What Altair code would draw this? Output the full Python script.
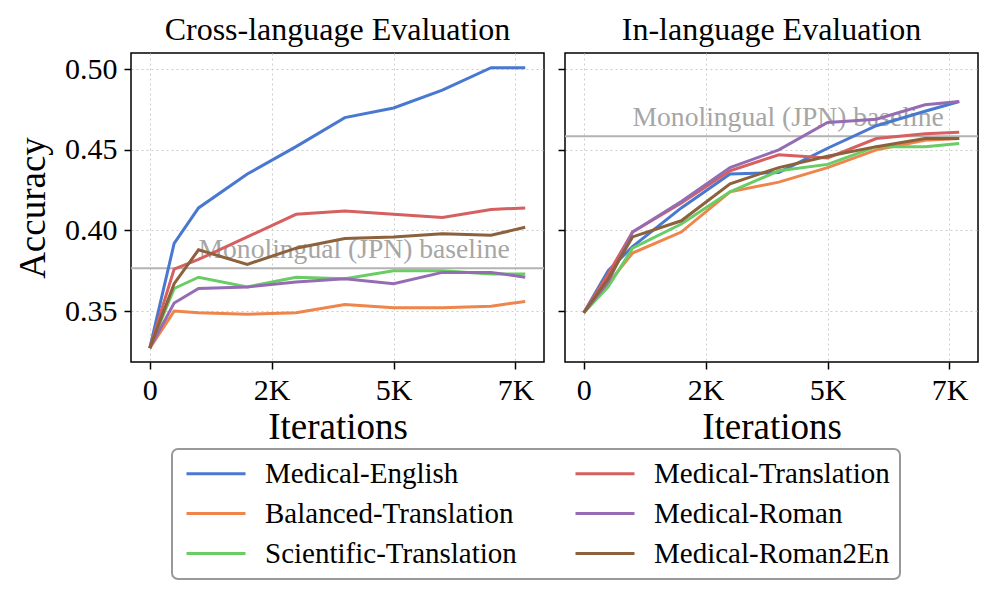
import altair as alt
import pandas as pd

iterations = [0, 500, 1000, 2000, 3000, 4000, 5000, 6000, 7000, 7700]

models = ["Medical-English", "Balanced-Translation", "Scientific-Translation",
          "Medical-Translation", "Medical-Roman", "Medical-Roman2En"]
colors = ["#4878d0", "#ee854a", "#6acc64", "#d65f5f", "#956cb4", "#8c613c"]

cross_medical_english = [0.327, 0.392, 0.414, 0.435, 0.452, 0.470, 0.476, 0.487, 0.501, 0.501]
cross_balanced_translation = [0.327, 0.350, 0.349, 0.348, 0.349, 0.354, 0.352, 0.352, 0.353, 0.356]
cross_scientific_translation = [0.327, 0.364, 0.371, 0.365, 0.371, 0.370, 0.375, 0.375, 0.373, 0.373]
cross_medical_translation = [0.327, 0.376, 0.382, 0.396, 0.410, 0.412, 0.410, 0.408, 0.413, 0.414]
cross_medical_roman = [0.327, 0.355, 0.364, 0.365, 0.368, 0.370, 0.367, 0.374, 0.374, 0.371]
cross_medical_roman2en = [0.327, 0.367, 0.388, 0.379, 0.389, 0.395, 0.396, 0.398, 0.397, 0.402]

in_medical_english = [0.349, 0.375, 0.390, 0.414, 0.435, 0.436, 0.451, 0.465, 0.474, 0.480]
in_balanced_translation = [0.349, 0.367, 0.386, 0.399, 0.424, 0.430, 0.439, 0.450, 0.456, 0.457]
in_scientific_translation = [0.349, 0.365, 0.389, 0.404, 0.424, 0.437, 0.441, 0.452, 0.452, 0.454]
in_medical_translation = [0.349, 0.373, 0.399, 0.417, 0.437, 0.447, 0.445, 0.457, 0.460, 0.461]
in_medical_roman = [0.349, 0.368, 0.399, 0.418, 0.439, 0.450, 0.467, 0.469, 0.478, 0.480]
in_medical_roman2en = [0.349, 0.370, 0.396, 0.406, 0.429, 0.439, 0.446, 0.452, 0.457, 0.457]

cross_baseline = 0.3766
in_baseline = 0.4584
baseline_label = "Monolingual (JPN) baseline"
baseline_label_x = 1000

cross_series = [cross_medical_english, cross_balanced_translation, cross_scientific_translation,
                cross_medical_translation, cross_medical_roman, cross_medical_roman2en]
in_series = [in_medical_english, in_balanced_translation, in_scientific_translation,
             in_medical_translation, in_medical_roman, in_medical_roman2en]

FONT = "Liberation Serif"


def long_df(series):
    rows = []
    for i, (m, vals) in enumerate(zip(models, series)):
        for it, v in zip(iterations, vals):
            rows.append({"model": m, "iter": it, "acc": v, "k": i})
    return pd.DataFrame(rows)


xscale = alt.Scale(domain=[-385, 8085], nice=False, zero=False)
yscale = alt.Scale(domain=[0.3184, 0.5101], nice=False, zero=False)


def panel(series, baseline, title, left):
    df = long_df(series)
    xaxis = alt.Axis(values=[0, 2500, 5000, 7500],
                     labelExpr="datum.value == 0 ? '0' : floor(datum.value / 1000) + 'K'",
                     title="Iterations", titlePadding=4)
    if left:
        yaxis = alt.Axis(values=[0.35, 0.40, 0.45, 0.50], format=".2f",
                         title="Accuracy", titlePadding=12, labelPadding=7)
    else:
        yaxis = alt.Axis(values=[0.35, 0.40, 0.45, 0.50], labels=False, title=None)

    lines = alt.Chart(df).mark_line(strokeWidth=3).encode(
        x=alt.X("iter:Q", scale=xscale, axis=xaxis),
        y=alt.Y("acc:Q", scale=yscale, axis=yaxis),
        color=alt.Color("model:N", scale=alt.Scale(domain=models, range=colors),
                        legend=alt.Legend(title=None, orient="none", legendX=41, legendY=396,
                                          columns=2)),
        detail="k:O",
    )
    bdf = pd.DataFrame({"y": [baseline], "x": [baseline_label_x], "t": [baseline_label]})
    rule = alt.Chart(bdf).mark_rule(color="#b3b3b3", strokeWidth=2).encode(y=alt.Y("y:Q", scale=yscale))
    text = alt.Chart(bdf).mark_text(align="left", baseline="alphabetic", dy=-10, font=FONT,
                                    fontSize=27.6, color="#a6a6a6").encode(
        x=alt.X("x:Q", scale=xscale), y=alt.Y("y:Q", scale=yscale), text="t:N")
    return alt.layer(rule, text, lines).properties(
        width=413, height=309,
        title=alt.TitleParams(title, font=FONT, fontSize=32, fontWeight="normal", color="black",
                              offset=6, anchor="middle"))


left = panel(cross_series, cross_baseline, "Cross-language Evaluation", True)
right = panel(in_series, in_baseline, "In-language Evaluation", False)

chart = alt.hconcat(left, right, spacing=10).configure_axis(
    labelFont=FONT, labelFontSize=30, labelColor="black",
    titleFont=FONT, titleFontSize=37, titleFontWeight="normal", titleColor="black",
    tickColor="black", tickWidth=1.5, tickSize=7, labelPadding=6,
    domain=False, gridColor="#cccccc", gridDash=[2, 3], gridWidth=1,
).configure_view(stroke="black", strokeWidth=1.5).configure_legend(
    symbolType="M-1,0H4.9", symbolSize=400, symbolStrokeWidth=3,
    labelFont=FONT, labelFontSize=29, labelColor="black", labelOffset=54, labelLimit=0,
    columnPadding=52, rowPadding=10, padding=10,
    strokeColor="#999999", strokeWidth=2, cornerRadius=6, fillColor="white",
)

chart.save("out.html", embed_options={"renderer": "svg", "actions": False})
